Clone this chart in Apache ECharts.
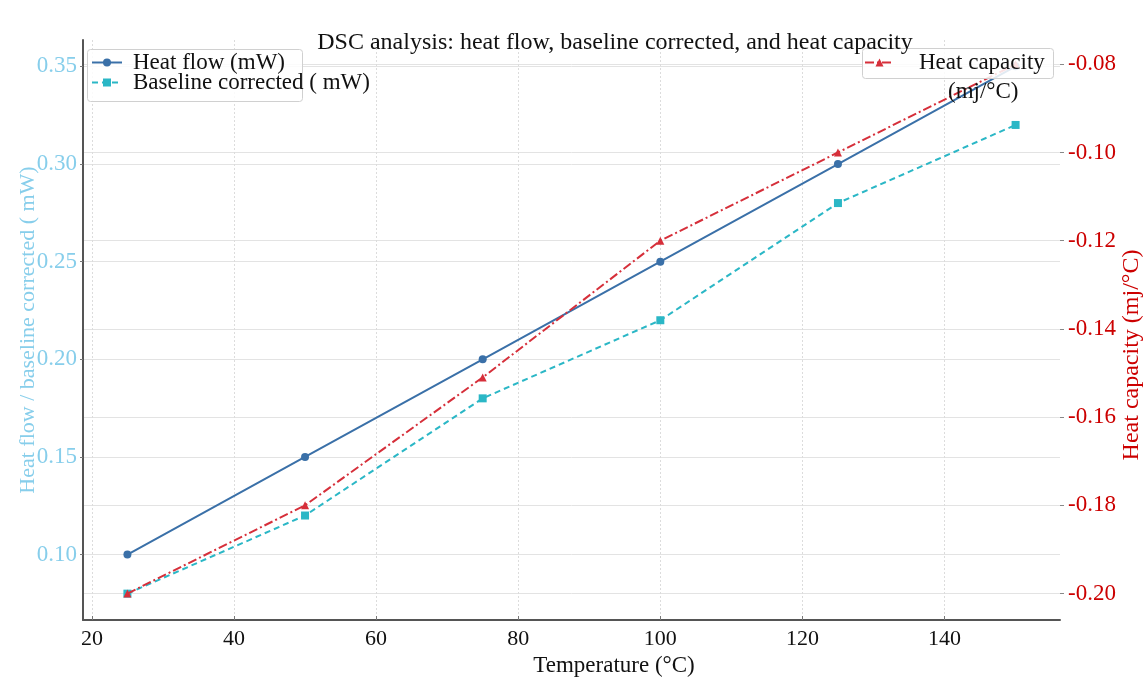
<!DOCTYPE html>
<html>
<head>
<meta charset="utf-8">
<script src="https://cdn.jsdelivr.net/npm/echarts@6/dist/echarts.min.js"></script>
<style>
html,body{margin:0;padding:0;background:#fff;overflow:hidden;}
#c{width:1145px;height:680px;}
</style>
</head>
<body>
<div id="c"></div>
<script>
const temperature = [25, 50, 75, 100, 125, 150];
const heatFlow = [0.10, 0.15, 0.20, 0.25, 0.30, 0.35];
const baselineCorrected = [0.08, 0.12, 0.18, 0.22, 0.28, 0.32];
const heatCapacity = [-0.20, -0.18, -0.151, -0.12, -0.10, -0.08];
const xTicks = [20, 40, 60, 80, 100, 120, 140];
const leftTicks = [0.10, 0.15, 0.20, 0.25, 0.30, 0.35];
const rightTicks = [-0.20, -0.18, -0.16, -0.14, -0.12, -0.10, -0.08];

const FONT = 'Liberation Serif';
const pair = (xs, ys) => xs.map((x, i) => [x, ys[i]]);

const chart = echarts.init(document.getElementById('c'));
chart.setOption({
  backgroundColor: '#fff',
  animation: false,
  textStyle: { fontFamily: FONT },
  title: {
    text: 'DSC analysis: heat flow, baseline corrected, and heat capacity',
    left: 610, top: 26, textAlign: 'center', z: 30,
    textStyle: { fontFamily: FONT, fontSize: 24, fontWeight: 'normal', color: '#111' }
  },
  grid: { left: 83, right: 85, top: 40, bottom: 60, containLabel: false, outerBoundsMode: 'none' },
  legend: [
    {
      data: ['Heat flow (mW)', 'Baseline corrected ( mW)'],
      orient: 'vertical', left: 91, top: 51, z: 20,
      itemWidth: 30, itemHeight: 10, itemGap: -3,
      padding: 0,
      textStyle: { fontFamily: FONT, fontSize: 23, color: '#111', padding: [0, 0, 0, 6] }
    },
    {
      data: ['Heat capacity (mj/°C)'],
      formatter: () => 'Heat capacity',
      orient: 'vertical', left: 864, top: 51, z: 20,
      itemWidth: 29, itemHeight: 10,
      padding: 0,
      textStyle: { fontFamily: FONT, fontSize: 23, color: '#111', padding: [0, 0, 0, 20] }
    }
  ],
  graphic: [
    {
      type: 'rect', left: 87, top: 49, z: 15,
      shape: { width: 215, height: 52, r: 3 },
      style: { fill: 'rgba(255,255,255,0.85)', stroke: '#d0d0d0', lineWidth: 1 }
    },
    {
      type: 'rect', left: 862, top: 48, z: 15,
      shape: { width: 191, height: 30, r: 3 },
      style: { fill: 'rgba(255,255,255,0.85)', stroke: '#d0d0d0', lineWidth: 1 }
    },
    {
      type: 'text', left: 948, top: 80, z: 21,
      style: { text: '(mj/°C)', fontFamily: FONT, fontSize: 23, fill: '#111' }
    }
  ],
  xAxis: {
    type: 'value', min: 18.75, max: 156.25,
    name: 'Temperature (°C)', nameLocation: 'middle', nameGap: 34, nameMoveOverlap: false,
    nameTextStyle: { fontFamily: FONT, fontSize: 23, color: '#111', padding: [0, 0, 0, 85] },
    axisLine: { show: true, lineStyle: { color: '#555', width: 2 } },
    axisTick: { show: true, inside: true, length: 4, customValues: xTicks, lineStyle: { color: '#777' } },
    axisLabel: { customValues: xTicks, fontFamily: FONT, fontSize: 22, color: '#111', margin: 8 },
    splitLine: { show: true, lineStyle: { color: '#dcdcdc', type: [2, 2], width: 1 } }
  },
  yAxis: [
    {
      type: 'value', min: 0.0665, max: 0.3635, position: 'left',
      name: 'Heat flow / baseline corrected ( mW)', nameLocation: 'middle', nameGap: 44, nameRotate: 90,
      nameMoveOverlap: false,
      nameTextStyle: { fontFamily: FONT, fontSize: 22, color: '#87ceeb' },
      axisLine: { show: true, lineStyle: { color: '#555', width: 2 } },
      axisTick: { show: true, length: 3, customValues: leftTicks, lineStyle: { color: '#777' } },
      axisLabel: { customValues: leftTicks, formatter: v => v.toFixed(2), fontFamily: FONT, fontSize: 23, color: '#87ceeb', margin: 6 },
      splitLine: { show: true, lineStyle: { color: '#e3e3e3', width: 1 } }
    },
    {
      type: 'value', min: -0.206, max: -0.0745, position: 'right',
      name: 'Heat capacity (mj/°C)', nameLocation: 'middle', nameGap: 60, nameRotate: 90,
      nameMoveOverlap: false,
      nameTextStyle: { fontFamily: FONT, fontSize: 24, color: '#cc0000', padding: [0, 50, 0, 0] },
      axisLine: { show: false },
      axisTick: { show: true, length: 4, customValues: rightTicks, lineStyle: { color: '#888' } },
      axisLabel: { customValues: rightTicks, formatter: v => v.toFixed(2), fontFamily: FONT, fontSize: 23, color: '#cc0000', margin: 8 },
      splitLine: { show: true, lineStyle: { color: '#e3e3e3', width: 1 } }
    }
  ],
  series: [
    {
      name: 'Heat flow (mW)', type: 'line', yAxisIndex: 0,
      data: pair(temperature, heatFlow),
      symbol: 'circle', symbolSize: 8,
      lineStyle: { color: '#3a70a8', width: 2 },
      itemStyle: { color: '#3a70a8' }, z: 3
    },
    {
      name: 'Baseline corrected ( mW)', type: 'line', yAxisIndex: 0,
      data: pair(temperature, baselineCorrected),
      symbol: 'rect', symbolSize: 8,
      lineStyle: { color: '#2bb7c6', width: 2, type: [6, 4] },
      itemStyle: { color: '#2bb7c6' }, z: 3
    },
    {
      name: 'Heat capacity (mj/°C)', type: 'line', yAxisIndex: 1,
      data: pair(temperature, heatCapacity),
      symbol: 'triangle', symbolSize: 8,
      lineStyle: { color: '#d62f3a', width: 2, type: [9, 3, 2, 3] },
      itemStyle: { color: '#d62f3a' }, z: 4
    }
  ]
});
</script>
</body>
</html>
